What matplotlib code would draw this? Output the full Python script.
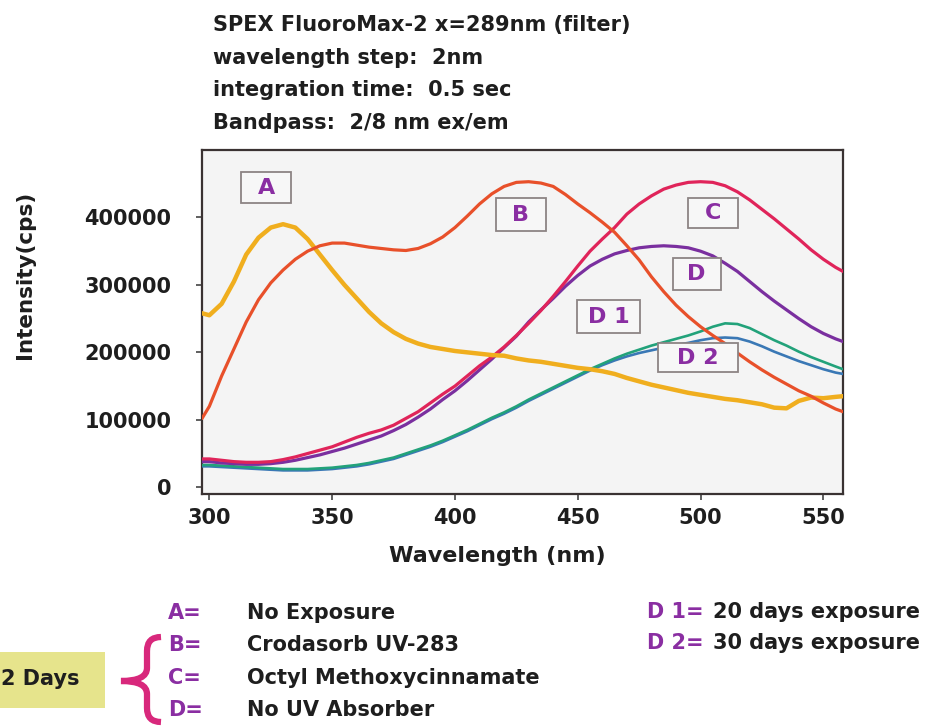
import matplotlib
matplotlib.use("Agg")
import matplotlib.pyplot as plt
from matplotlib.patches import Rectangle, PathPatch
from matplotlib.path import Path

# ---------------- data ----------------
wavelength = [297, 300, 305, 310, 315, 320, 325, 330, 335, 340, 345, 350, 355, 360,
              365, 370, 375, 380, 385, 390, 395, 400, 405, 410, 415, 420, 425, 430,
              435, 440, 445, 450, 455, 460, 465, 470, 475, 480, 485, 490, 495, 500,
              505, 510, 515, 520, 525, 530, 535, 540, 545, 550, 555, 558]

curve_A = [258, 255, 272, 305, 345, 370, 385, 390, 385, 368, 345, 322, 300, 280,
           260, 243, 230, 220, 213, 208, 205, 202, 200, 198, 196, 195, 191, 188,
           186, 183, 180, 177, 175, 172, 168, 162, 157, 152, 148, 144, 140, 137,
           134, 131, 129, 126, 123, 118, 117, 128, 133, 132, 134, 135]

curve_B = [102, 120, 165, 205, 245, 278, 303, 322, 338, 350, 358, 362, 362, 359,
           356, 354, 352, 351, 354, 361, 371, 385, 402, 420, 435, 446, 452, 453,
           451, 446, 434, 420, 407, 393, 378, 358, 337, 312, 290, 270, 253, 238,
           225, 213, 199, 186, 174, 163, 153, 143, 135, 125, 116, 112]

curve_C = [42, 42, 40, 38, 37, 37, 38, 41, 45, 50, 55, 60, 67, 74,
           80, 85, 92, 102, 112, 125, 138, 150, 165, 180, 193, 208, 225, 243,
           262, 283, 305, 328, 350, 368, 385, 405, 420, 432, 442, 448, 452, 453,
           452, 447, 438, 426, 412, 398, 383, 368, 352, 338, 326, 320]

curve_D = [38, 38, 36, 35, 34, 34, 35, 37, 40, 44, 48, 53, 58, 64,
           70, 76, 84, 93, 104, 116, 130, 143, 158, 174, 190, 207, 224, 245,
           263, 280, 298, 314, 328, 338, 346, 351, 355, 357, 358, 357, 355, 350,
           343, 332, 320, 305, 290, 276, 263, 250, 238, 228, 220, 216]

curve_D1 = [33, 33, 32, 31, 30, 29, 28, 27, 27, 27, 28, 29, 31, 33,
            36, 40, 44, 50, 56, 62, 69, 77, 85, 94, 103, 111, 120, 130,
            139, 148, 157, 166, 175, 183, 191, 198, 204, 210, 215, 220, 225, 231,
            238, 243, 242, 236, 227, 218, 210, 201, 193, 186, 179, 175]

curve_D2 = [31, 31, 30, 29, 28, 27, 26, 25, 25, 25, 26, 27, 29, 31,
            34, 38, 42, 48, 54, 60, 67, 75, 83, 92, 101, 109, 118, 128,
            137, 146, 155, 164, 173, 181, 188, 194, 199, 203, 207, 211, 214, 218,
            221, 222, 221, 216, 209, 201, 194, 187, 181, 175, 170, 168]

series_names = ["A", "B", "C", "D", "D 1", "D 2"]
y_ticks = [0, 100000, 200000, 300000, 400000]
x_ticks = [300, 350, 400, 450, 500, 550]

header_lines = ["SPEX FluoroMax-2 x=289nm (filter)",
                "wavelength step:  2nm",
                "integration time:  0.5 sec",
                "Bandpass:  2/8 nm ex/em"]
legend_keys = ["A=", "B=", "C=", "D="]
legend_desc = ["No Exposure", "Crodasorb UV-283", "Octyl Methoxycinnamate", "No UV Absorber"]
legend2_keys = ["D 1=", "D 2="]
legend2_desc = ["20 days exposure", "30 days exposure"]

# ---------------- style ----------------
W, H = 938, 726
FONT = "DejaVu Sans"
PURPLE = "#8a2ea2"
TXT = "#1e1e1e"
colors = {"A": "#f0ae1e", "B": "#e8502a", "C": "#e0245a",
          "D": "#7a2f9f", "D 1": "#22a27a", "D 2": "#3a78b5"}
widths = {"A": 3.2, "B": 2.3, "C": 2.3, "D": 2.3, "D 1": 1.9, "D 2": 1.9}

def fx(px):
    return px / W

def fy(py):
    return 1 - py / H

fig = plt.figure(figsize=(W / 100, H / 100), dpi=100)
fig.patch.set_facecolor("white")

L, R, T, B = 202, 843, 150, 494
ax = fig.add_axes([fx(L), fy(B), (R - L) / W, (B - T) / H])
ax.set_facecolor("#f4f4f4")

xmin, xmax = 297, 558
ymin, ymax = -10000, 500000
ax.set_xlim(xmin, xmax)
ax.set_ylim(ymin, ymax)

data = {"A": curve_A, "B": curve_B, "C": curve_C, "D": curve_D,
        "D 1": curve_D1, "D 2": curve_D2}
order = ["D 2", "D 1", "D", "C", "A", "B"]
for name in order:
    ax.plot(wavelength, [v * 1000 for v in data[name]], color=colors[name],
            lw=widths[name], solid_capstyle="round", solid_joinstyle="round", zorder=3)

for s in ax.spines.values():
    s.set_color("#3a3232")
    s.set_linewidth(1.6)

ax.set_xticks(x_ticks)
ax.set_xticklabels([str(t) for t in x_ticks])
ax.set_yticks(y_ticks)
ax.set_yticklabels([str(t) for t in y_ticks])
ax.tick_params(axis="y", direction="out", length=4, width=1.2, color="#444", pad=18)
ax.tick_params(axis="x", direction="out", length=4, width=1.2, color="#444", pad=6)
for lab in ax.get_xticklabels() + ax.get_yticklabels():
    lab.set_fontfamily(FONT)
    lab.set_fontweight("bold")
    lab.set_fontsize(15)
    lab.set_color(TXT)

# label boxes: centre in data coords, size in pixels
label_pos = {"A": (323.2, 443700, 50, 31), "B": (426.7, 403700, 50, 33),
             "C": (504.9, 405900, 50, 30), "D": (498.4, 315600, 48, 32),
             "D 1": (462.7, 252600, 63, 33), "D 2": (498.8, 191900, 80, 29)}
aw, ah = R - L, B - T
for name in series_names:
    cx, cy, bw, bh = label_pos[name]
    ux = (cx - xmin) / (xmax - xmin)
    uy = (cy - ymin) / (ymax - ymin)
    ax.add_patch(Rectangle((ux - bw / aw / 2, uy - bh / ah / 2), bw / aw, bh / ah,
                           transform=ax.transAxes, facecolor="#f7f7f7",
                           edgecolor="#8c8484", lw=1.3, zorder=5))
    ax.text(ux, uy, name, transform=ax.transAxes, ha="center", va="center",
            fontsize=16, fontweight="bold", family=FONT, color=PURPLE, zorder=6)

# header
for i, line in enumerate(header_lines):
    fig.text(fx(213), fy([25, 58, 90, 123][i]), line, ha="left", va="center",
             fontsize=15, fontweight="bold", family=FONT, color=TXT)

# axis titles
fig.text(fx(25), fy(275), "Intensity(cps)", rotation=90, ha="center", va="center",
         fontsize=15.5, fontweight="bold", family=FONT, color=TXT)
fig.text(fx(497), fy(556), "Wavelength (nm)", ha="center", va="center",
         fontsize=16, fontweight="bold", family=FONT, color=TXT)

# legend
rows = [613, 645, 678, 710]
for k, d, r in zip(legend_keys, legend_desc, rows):
    fig.text(fx(168), fy(r), k, ha="left", va="center", fontsize=15,
             fontweight="bold", family=FONT, color=PURPLE)
    fig.text(fx(247), fy(r), d, ha="left", va="center", fontsize=15,
             fontweight="bold", family=FONT, color=TXT)
for k, d, r in zip(legend2_keys, legend2_desc, [612, 643]):
    fig.text(fx(647), fy(r), k, ha="left", va="center", fontsize=15,
             fontweight="bold", family=FONT, color=PURPLE)
    fig.text(fx(713), fy(r), d, ha="left", va="center", fontsize=15,
             fontweight="bold", family=FONT, color=TXT)

# "2 Days" box
fig.patches.append(Rectangle((fx(0), fy(708)), fx(105), (708 - 652) / H,
                             transform=fig.transFigure, facecolor="#e6e48c",
                             edgecolor="none", zorder=1))
fig.text(fx(1), fy(679), "2 Days", ha="left", va="center", fontsize=15,
         fontweight="bold", family=FONT, color=TXT, zorder=2)

# brace
pts_px = [(161, 637), (147, 637), (147, 651), (147, 668), (147, 681), (121, 681),
          (147, 681), (147, 694), (147, 708), (147, 722), (161, 722)]
codes = [Path.MOVETO, Path.CURVE3, Path.CURVE3, Path.LINETO, Path.CURVE3, Path.CURVE3,
         Path.CURVE3, Path.CURVE3, Path.LINETO, Path.CURVE3, Path.CURVE3]
brace = Path([(fx(x), fy(y)) for x, y in pts_px], codes)
fig.patches.append(PathPatch(brace, transform=fig.transFigure, facecolor="none",
                             edgecolor="#d8287c", lw=4.5, capstyle="butt", zorder=2))

fig.savefig("out.png", dpi=100)
